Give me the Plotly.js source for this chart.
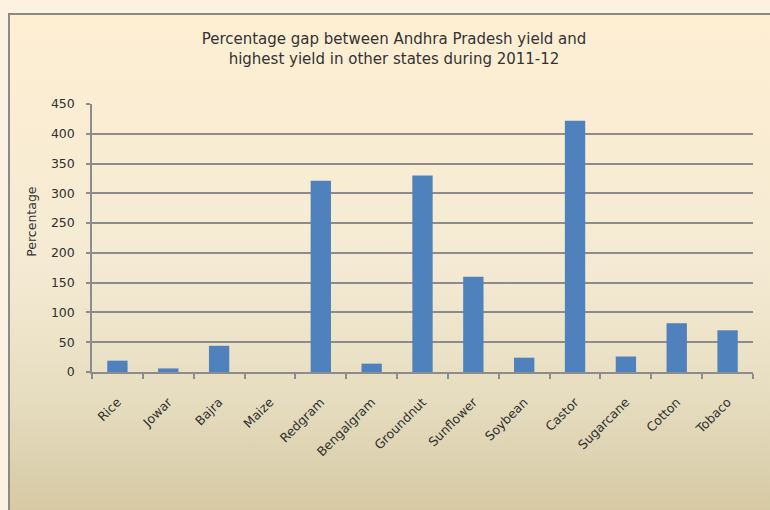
<!DOCTYPE html>
<html>
<head>
<meta charset="utf-8">
<script src="https://cdn.plot.ly/plotly-3.0.1.min.js"></script>
<style>
  html, body { margin: 0; padding: 0; width: 770px; height: 510px; overflow: hidden; background: #FDF1E2; }
  #frame {
    position: absolute; left: 8px; top: 13px; width: 770px; height: 510px;
    border-left: 2px solid #8C8A86; border-top: 2px solid #8C8A86;
    background: linear-gradient(to bottom, #FEEFD3 0%, #F4EAD3 50%, #E6DDC0 75%, #D4C7A0 100%);
  }
  #chart { position: absolute; left: 0; top: 0; width: 770px; height: 510px; }
</style>
</head>
<body>
<div id="frame"></div>
<div id="chart"></div>
<script>
// Crops and their percentage yield gap, 2011-12
const crops = ["Rice", "Jowar", "Bajra", "Maize", "Redgram", "Bengalgram", "Groundnut",
               "Sunflower", "Soybean", "Castor", "Sugarcane", "Cotton", "Tobaco"];
const gapPercent = [19, 6, 44, 0, 321, 14, 330, 160, 24, 422, 26, 82, 70];
const yTicks = [0, 50, 100, 150, 200, 250, 300, 350, 400, 450];

const titleText = "Percentage gap between Andhra Pradesh yield and<br>highest yield in other states during 2011-12";
const yTitleText = "Percentage";

const FONT = "DejaVu Sans, Verdana, sans-serif";

const trace = {
  type: "bar",
  x: crops,
  y: gapPercent,
  marker: { color: "#4F81BD", line: { width: 0 } },
  hoverinfo: "x+y"
};

const layout = {
  width: 770,
  height: 510,
  paper_bgcolor: "rgba(0,0,0,0)",
  plot_bgcolor: "rgba(0,0,0,0)",
  margin: { l: 92, r: 17, t: 104, b: 137.5 },
  showlegend: false,
  bargap: 0.6,
  font: { family: FONT, color: "#404040", size: 11 },
  title: {
    text: titleText,
    font: { family: FONT, size: 15, color: "#333333" },
    xref: "container", x: 394 / 770, xanchor: "center",
    yref: "container", y: 1 - 44 / 510, yanchor: "top"
  },
  xaxis: {
    type: "category",
    tickson: "boundaries",
    ticks: "outside",
    ticklen: 5,
    tickcolor: "#8C8C8C",
    tickwidth: 1.5,
    tickangle: -45,
    ticklabelstandoff: 16,
    showgrid: false,
    showline: true,
    linecolor: "#8C8C8C",
    linewidth: 2,
    tickfont: { family: FONT, size: 12.5, color: "#303030" },
    fixedrange: true
  },
  yaxis: {
    range: [0, 450],
    tickvals: yTicks,
    ticktext: yTicks.map(String),
    ticks: "outside",
    ticklen: 4,
    tickcolor: "#8C8C8C",
    tickwidth: 1.5,
    ticklabelstandoff: 9,
    showgrid: true,
    gridcolor: "#8C8C8C",
    gridwidth: 1.5,
    zeroline: false,
    showline: true,
    linecolor: "#8C8C8C",
    linewidth: 1.5,
    tickfont: { family: FONT, size: 12.5, color: "#303030" },
    fixedrange: true
  },
  annotations: [{
    text: yTitleText,
    textangle: -90,
    showarrow: false,
    font: { family: FONT, size: 12.5, color: "#303030" },
    xref: "paper", x: (32 - 92) / 661, xanchor: "center",
    yref: "paper", y: (372.5 - 222) / 268.5, yanchor: "middle"
  }]
};

Plotly.newPlot("chart", [trace], layout, { displayModeBar: false });
</script>
</body>
</html>
